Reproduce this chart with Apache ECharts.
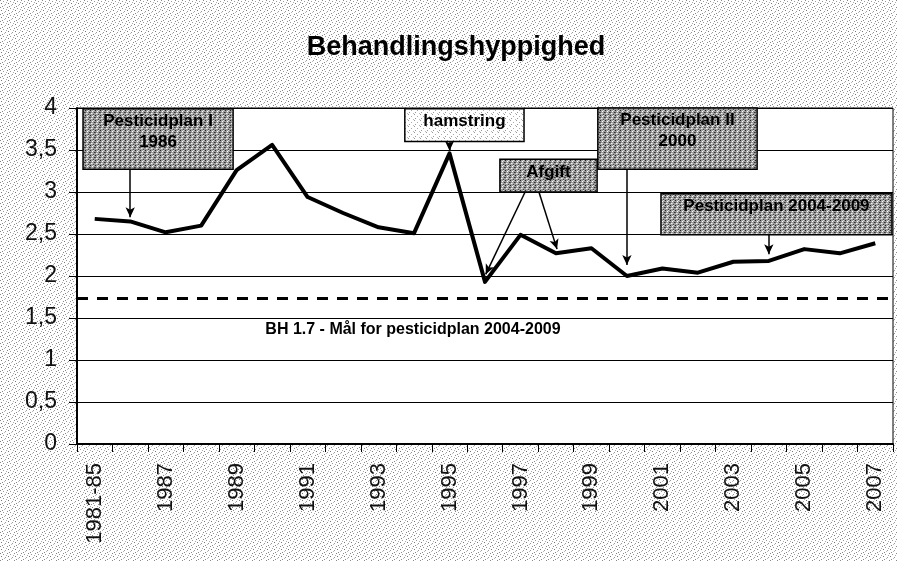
<!DOCTYPE html>
<html>
<head>
<meta charset="utf-8">
<script src="https://cdn.jsdelivr.net/npm/echarts@6/dist/echarts.min.js"></script>
<style>
html,body{margin:0;padding:0;background:#fff;}
#chart{width:897px;height:561px;}
</style>
</head>
<body>
<div id="chart"></div>
<script>
// ---- data ----
const categories = ['1981-85','1986','1987','1988','1989','1990','1991','1992','1993','1994','1995','1996','1997','1998','1999','2000','2001','2002','2003','2004','2005','2006','2007'];
const values = [2.68,2.65,2.52,2.60,3.26,3.56,2.94,2.75,2.58,2.51,3.46,1.93,2.49,2.27,2.33,2.00,2.09,2.04,2.17,2.18,2.32,2.27,2.39];
const yTicks = [0,0.5,1,1.5,2,2.5,3,3.5,4];
const targetValue = 1.73;
const targetText = 'BH 1.7 - Mål for pesticidplan 2004-2009';
const annotationTexts = ['Pesticidplan I\n1986','hamstring','Afgift','Pesticidplan II\n2000','Pesticidplan 2004-2009'];
const titleText = 'Behandlingshyppighed';

// ---- texture helpers ----
function makePattern(size, base, dots){
  const c = document.createElement('canvas');
  c.width = size; c.height = size;
  const g = c.getContext('2d');
  g.fillStyle = base; g.fillRect(0,0,size,size);
  dots.forEach(d => { g.fillStyle = d[2]; g.fillRect(d[0], d[1], 1, 1); });
  return c;
}
const bgPat = makePattern(7,'#ffffff',[[0,0,'#888'],[3,1,'#999'],[1,3,'#777'],[5,4,'#999'],[2,6,'#888'],[6,2,'#aaa'],[4,5,'#bbb']]);
const darkPat = makePattern(5,'#9c9c9c',[[0,0,'#222'],[2,1,'#fff'],[4,2,'#333'],[1,3,'#eee'],[3,4,'#444'],[3,0,'#ddd'],[0,2,'#555'],[2,3,'#ccc']]);
const lightPat = makePattern(6,'#ffffff',[[0,0,'#999'],[3,2,'#aaa'],[1,4,'#999'],[5,5,'#bbb']]);

const chart = echarts.init(document.getElementById('chart'), null, {renderer:'canvas'});

const font = 'Liberation Sans, Arial, sans-serif';
const boxLabel = {show:true, position:'insideTop', distance:3, color:'#000', fontWeight:'bold', fontSize:17, fontFamily:font, lineHeight:21};
function box(i, x0, y0, x1, y1, fill){
  return [
    {coord:[x0,y1], itemStyle:{color:{image:fill, repeat:'repeat'}, borderColor:'#000', borderWidth:1.5}, label:Object.assign({}, boxLabel, {formatter: annotationTexts[i]})},
    {coord:[x1,y0]}
  ];
}
function arrow(x0,y0,x1,y1){ return [{coord:[x0,y0]},{coord:[x1,y1]}]; }

const option = {
  backgroundColor: {image: bgPat, repeat:'repeat'},
  animation:false,
  title:{text:titleText, left:451, top:29, textAlign:'center',
    textStyle:{fontSize:27, fontWeight:'bold', color:'#000', fontFamily:font}},
  grid:{left:77, right:4, top:108, bottom:117, show:true, backgroundColor:'#fff', borderColor:'#000', borderWidth:1},
  xAxis:[
    {type:'category', data:categories, boundaryGap:true,
      axisLine:{show:true, onZero:false, lineStyle:{color:'#000', width:2}},
      axisTick:{show:true, interval:0, length:8, lineStyle:{color:'#000'}},
      axisLabel:{interval:1, rotate:90, margin:19, fontSize:22, color:'#111', fontFamily:font},
      splitLine:{show:false}},
    {type:'value', min:-0.5, max:categories.length-0.5, show:false, gridIndex:0,
      axisLine:{show:false, onZero:false}}
  ],
  yAxis:{type:'value', min:yTicks[0], max:yTicks[yTicks.length-1], interval:0.5,
    axisLine:{show:true, onZero:false, lineStyle:{color:'#000', width:2}},
    axisTick:{show:true, length:8, lineStyle:{color:'#000'}},
    axisLabel:{fontSize:23, color:'#111', margin:20, fontFamily:font,
      formatter: v => String(v).replace('.', ',')},
    splitLine:{show:true, lineStyle:{color:'#000', width:1}}},
  series:[
    {name:'target', type:'line', xAxisIndex:1, data:[], silent:true,
      markLine:{silent:true, symbol:'none', label:{show:false},
        lineStyle:{color:'#000', width:3, type:[11,9]},
        data:[{yAxis:targetValue}]},
      markPoint:{silent:true, symbol:'rect', symbolSize:[1,1], itemStyle:{color:'rgba(0,0,0,0)'},
        label:{show:true, position:'inside', formatter:targetText, color:'#000', fontWeight:'bold', fontSize:16, fontFamily:font},
        data:[{coord:[8.97,1.36]}]}
    },
    {name:'annot', type:'line', xAxisIndex:1, data:[], silent:true,
      markArea:{silent:true, data:[
        box(0,-0.33,3.27,3.90,3.99,darkPat),
        box(1,8.74,3.60,12.10,3.99,lightPat),
        box(2,11.42,3.00,14.16,3.39,darkPat),
        box(3,14.18,3.27,18.67,4.00,darkPat),
        box(4,15.96,2.49,22.47,2.98,darkPat)
      ]},
      markLine:{silent:true, symbol:['none','arrow'], symbolSize:[7,10], label:{show:false},
        lineStyle:{color:'#000', width:1.5, type:'solid'},
        data:[
          arrow(1,3.27,1,2.70),
          arrow(10,3.60,10,3.49),
          arrow(12.13,3.00,11.02,2.02),
          arrow(12.52,3.00,13.03,2.32),
          arrow(15,3.27,15,2.13),
          arrow(19,2.49,19,2.26)
        ]}
    },
    {name:'BH', type:'line', data:values, symbol:'none', smooth:false, z:5,
      lineStyle:{color:'#000', width:4, join:'round'}}
  ]
};
chart.setOption(option);
</script>
</body>
</html>
